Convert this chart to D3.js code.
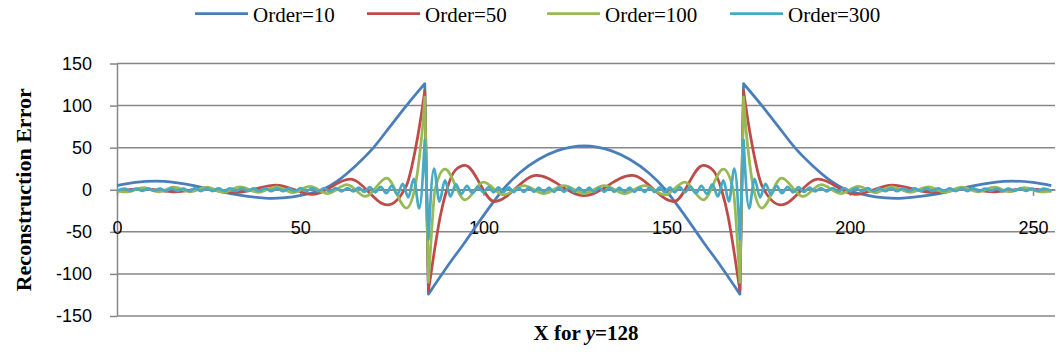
<!DOCTYPE html>
<html>
<head>
<meta charset="utf-8">
<script src="https://cdn.jsdelivr.net/npm/d3@7"></script>
<style>
  body { margin: 0; background: #fff; }
  svg { display: block; }
</style>
</head>
<body>
<div id="chart"></div>
<script>

const W = 1060 ;
const H = 352 ;

const seriesNames  = ["Order=10", "Order=50", "Order=100", "Order=300"] ;
const seriesColors = ["#4a7ebb", "#be4b48", "#98b954", "#46aac5"] ;
const xTicks = [0, 50, 100, 150, 200, 250] ;
const yTicks = [-150, -100, -50, 0, 50, 100, 150] ;

// step edges of the test row: the error jumps between these samples and the next
const jumpAfter = [84, 170] ;

// [x, error] at turning points
const order10 = [
	[0,5],[5,8.8],[10.7,10.2],[16,8.5],[21,5],[26,0],[31,-4.5],[37,-8.5],[42.5,-10.2],[48,-8.5],[52,-5],[56,0],
	[60,10],[65,28],[70,50],[74.5,75],[79,100],[84,126],
	[85,-124],[90,-92],[95,-62],[99,-37],[103,-13],[105.3,0],[110,20.5],[115,36],[120,46.2],[124,50.7],[127.5,52],
	[131,50.7],[135,46.2],[140,36],[145,20.5],[149.7,0],[152,-13],[156,-37],[160,-62],[165,-92],[170,-124],
	[171,126],[176,100],[180.5,75],[185,50],[190,28],[195,10],
	[199,0],[203,-5],[207,-8.5],[212.5,-10.2],[218,-8.5],[224,-5],[229,0],[234,5],[239,8.5],[244.3,10.2],[250,8.8],[255,5]
] ;

const order50 = [
	[0,-1.5],[7,1],[16,-2.5],[24,1.5],[32,-3.5],[43.5,5.5],[53.5,-5.5],[63.6,12.5],[73.8,-18],
	[79,5],[81.3,45],[82.8,82],[84,118],
	[85,-120],[86.4,-79],[88.2,-32],[90,0],[92.3,23],[95,29],[103,-14],[114.5,17],[127.5,-7],
	[140.5,17],[152,-14],[160,29],[162.7,23],[165,0],[166.8,-32],[168.6,-79],[170,-120],
	[171,118],[172.2,82],[173.7,45],[176,5],
	[181.2,-18],[191.4,12.5],[201.5,-5.5],[211.5,5.5],[223,-3.5],[231,1.5],[239,-2.5],[248,1],[255,-1.5]
] ;

const order100 = [
	[0,-1.5],[2.8,-2.5],[7.3,2.5],[11.5,-2.5],[15.5,3],[20,-2.5],[24.5,3],[29,-3],[33.6,3.5],[38.5,-3],
	[43.6,3.5],[48,-3.5],[52.7,4],[57.5,-4.5],[62.8,6],[67.8,-8],[73.6,13.8],[79,-21.7],
	[81.2,0],[82.7,45],[83.5,80],[84,110],
	[85,-110],[85.9,-47],[86.8,0],[89.5,24.5],[95,-12],[100,9],[105.5,-6],[111,5],[116.5,-4.5],[122,5],[127.5,-4.5],
	[133,5],[138.5,-4.5],[144,5],[149.5,-6],[155,9],[160,-12],[165.5,24.5],[168.2,0],[169.1,-47],[170,-110],
	[171,110],[171.5,80],[172.3,45],[173.8,0],
	[176,-21.7],[181.4,13.8],[187.2,-8],[192.2,6],[197.5,-4.5],[202.3,4],[207,-3.5],[211.4,3.5],[216.5,-3],
	[221.4,3.5],[226,-3],[230.5,3],[235,-2.5],[239.5,3],[243.5,-2.5],[247.7,2.5],[252.2,-2.5],[255,-1.5]
] ;

const order300 = [
	[0,-1.2],[2.1,1.3],[3.7,-1.3],[5.3,1.3],[6.9,-1.3],[8.5,1.3],[10.1,-1.4],[11.7,1.4],[13.3,-1.4],[14.9,1.4],
	[16.5,-1.4],[18.1,1.4],[19.7,-1.5],[21.3,1.5],[22.9,-1.5],[24.5,1.5],[26.1,-1.5],[27.7,1.5],[29.3,-1.5],[30.9,1.5],
	[32.5,-1.5],[34.1,1.5],[35.7,-1.5],[37.3,1.5],[38.9,-1.6],[40.5,1.6],[42.1,-1.6],[43.7,1.6],[45.3,-1.6],[46.9,1.6],
	[48.5,-1.8],[50.1,1.8],[51.7,-1.8],[53.3,1.8],[54.9,-1.8],[56.5,1.8],[58.1,-2],[59.7,2],[61.3,-2],[62.9,2],
	[64.5,-2],[66,2.5],[67.5,-2.5],[69,3],[70.5,-3],[72,3.5],[73.5,-4],[75,4.5],[76.5,-5.5],[78,7],
	[79.5,-9],[81,13],[82.5,-22],[84,59],
	[85,-59],[86.5,25],[88,-14],[89.5,11],[91,-8],[92.5,6.5],[94,-5],[95.5,4.5],[97,-4],[98.5,3.5],
	[100,-3],[101.4,3],[102.8,-3],[104.1,2.8],[105.5,-2.8],[106.9,2.7],[108.3,-2.7],[109.6,2.6],[111,-2.6],[112.4,2.5],
	[113.8,-2.5],[115.1,2.5],[116.5,-2.5],[117.9,2.5],[119.3,-2.5],[120.6,2.5],[122,-2.5],[123.4,2.5],[124.8,-2.5],[126.1,2.5],
	[127.5,-2.5],
	[128.9,2.5],[130.2,-2.5],[131.6,2.5],[133,-2.5],[134.4,2.5],[135.7,-2.5],[137.1,2.5],[138.5,-2.5],[139.9,2.5],[141.2,-2.5],
	[142.6,2.5],[144,-2.6],[145.4,2.6],[146.7,-2.7],[148.1,2.7],[149.5,-2.8],[150.9,2.8],[152.2,-3],[153.6,3],[155,-3],
	[156.5,3.5],[158,-4],[159.5,4.5],[161,-5],[162.5,6.5],[164,-8],[165.5,11],[167,-14],[168.5,25],[170,-59],
	[171,59],[172.5,-22],[174,13],[175.5,-9],[177,7],[178.5,-5.5],[180,4.5],[181.5,-4],[183,3.5],[184.5,-3],
	[186,3],[187.5,-2.5],[189,2.5],[190.5,-2],[192.1,2],[193.7,-2],[195.3,2],[196.9,-2],[198.5,1.8],[200.1,-1.8],
	[201.7,1.8],[203.3,-1.8],[204.9,1.8],[206.5,-1.8],[208.1,1.6],[209.7,-1.6],[211.3,1.6],[212.9,-1.6],[214.5,1.6],[216.1,-1.6],
	[217.7,1.5],[219.3,-1.5],[220.9,1.5],[222.5,-1.5],[224.1,1.5],[225.7,-1.5],[227.3,1.5],[228.9,-1.5],[230.5,1.5],[232.1,-1.5],
	[233.7,1.5],[235.3,-1.5],[236.9,1.4],[238.5,-1.4],[240.1,1.4],[241.7,-1.4],[243.3,1.4],[244.9,-1.4],[246.5,1.3],[248.1,-1.3],
	[249.7,1.3],[251.3,-1.3],[252.9,1.3],[255,-1.2]
] ;

const seriesData = [order10, order50, order100, order300] ;

// legend item left edges
const legendX = [195, 367, 547, 730] ;


const svg = d3.select("#chart").append("svg")
	.attr("width", W)
	.attr("height", H)
	.style("background", "#fff") ;

const x = d3.scaleLinear().domain([0, 256]).range([117, 1055]) ;
const y = d3.scaleLinear().domain([-150, 150]).range([316, 63.5]) ;

const gridColor = "#878787" ;
const sans = "'Liberation Sans', Arial, sans-serif" ;
const serif = "'Liberation Serif', 'Times New Roman', serif" ;
const plain = function(d) { return String(d) ; } ;   // hyphen minus, like the original

// horizontal gridlines
svg.append("g").attr("class", "grid")
	.selectAll("line")
	.data(yTicks)
	.enter().append("line")
		.attr("x1", x(0))
		.attr("x2", x(256))
		.attr("y1", function(d) { return y(d) ; })
		.attr("y2", function(d) { return y(d) ; })
		.attr("stroke", gridColor)
		.attr("stroke-width", 1.5) ;

// y axis
const yAxis = svg.append("g")
	.attr("transform", "translate(" + x(0) + ",0)")
	.call(d3.axisLeft(y).tickValues(yTicks).tickFormat(plain).tickSize(7).tickSizeOuter(0).tickPadding(18)) ;
yAxis.select(".domain").attr("stroke", gridColor).attr("stroke-width", 1.5) ;
yAxis.selectAll(".tick line").attr("stroke", gridColor).attr("stroke-width", 1.5) ;
yAxis.selectAll("text")
	.attr("font-family", sans)
	.attr("font-size", 18)
	.attr("fill", "#000") ;

// x axis crosses at zero
const xAxis = svg.append("g")
	.attr("transform", "translate(0," + y(0) + ")")
	.call(d3.axisBottom(x).tickValues(xTicks).tickFormat(plain).tickSize(6).tickSizeOuter(0).tickPadding(25.5)) ;
xAxis.select(".domain").attr("stroke", gridColor).attr("stroke-width", 1.5) ;
xAxis.selectAll(".tick line").attr("stroke", gridColor).attr("stroke-width", 1.5) ;
xAxis.selectAll("text")
	.attr("font-family", sans)
	.attr("font-size", 18)
	.attr("fill", "#000") ;

// series
const line = d3.line()
	.x(function(d) { return x(d[0]) ; })
	.y(function(d) { return y(d[1]) ; })
	.curve(d3.curveMonotoneX) ;

function seriesPath( pts ) {
	var segs = [[]] ;
	pts.forEach(function(p) {
		segs[segs.length - 1].push(p) ;
		if( jumpAfter.indexOf(p[0]) >= 0 ) segs.push([]) ;
	}) ;
	return segs
		.filter(function(s) { return s.length > 0 ; })
		.map(function(s, i) { return i ? line(s).replace(/^M/, "L") : line(s) ; })
		.join("") ;
}

svg.append("g").attr("class", "series")
	.selectAll("path")
	.data(seriesData)
	.enter().append("path")
		.attr("d", seriesPath)
		.attr("fill", "none")
		.attr("stroke", function(d, i) { return seriesColors[i] ; })
		.attr("stroke-width", 2.75)
		.attr("stroke-linejoin", "round") ;

// legend
const legend = svg.append("g").attr("class", "legend")
	.selectAll("g")
	.data(seriesNames)
	.enter().append("g")
		.attr("transform", function(d, i) { return "translate(" + legendX[i] + ",0)" ; }) ;
legend.append("line")
	.attr("x1", 0).attr("x2", 53)
	.attr("y1", 13.5).attr("y2", 13.5)
	.attr("stroke", function(d, i) { return seriesColors[i] ; })
	.attr("stroke-width", 2.75) ;
legend.append("text")
	.attr("x", 58)
	.attr("y", 21.5)
	.attr("font-family", serif)
	.attr("font-size", 21)
	.attr("fill", "#000")
	.text(function(d) { return d ; }) ;

// axis titles
svg.append("text")
	.attr("transform", "translate(23," + y(0) + ") rotate(-90)")
	.attr("text-anchor", "middle")
	.attr("dominant-baseline", "central")
	.attr("font-family", serif)
	.attr("font-size", 22)
	.attr("font-weight", "bold")
	.text("Reconstruction Error") ;

const xTitle = svg.append("text")
	.attr("x", (x(0) + x(256)) / 2)
	.attr("y", 340)
	.attr("text-anchor", "middle")
	.attr("font-family", serif)
	.attr("font-size", 21)
	.attr("font-weight", "bold") ;
xTitle.append("tspan").text("X for ") ;
xTitle.append("tspan").attr("font-style", "italic").text("y") ;
xTitle.append("tspan").text("=128") ;

</script>
</body>
</html>
